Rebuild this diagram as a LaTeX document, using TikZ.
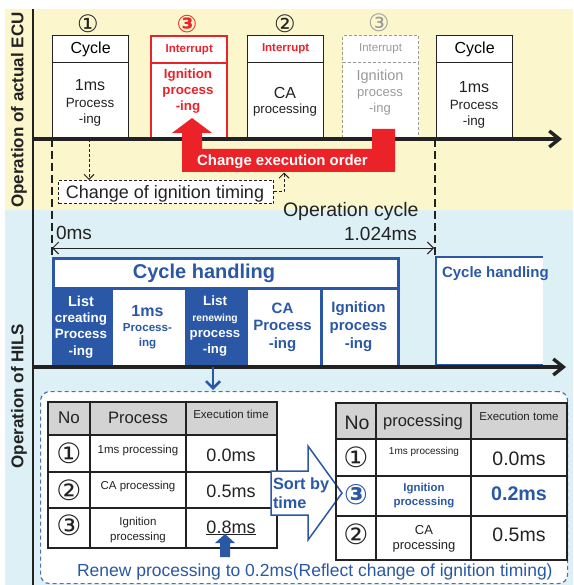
\documentclass[tikz,border=0pt]{standalone}
\usepackage{fontspec}
\setmainfont{Liberation Sans}
\newfontfamily\symfont{DejaVu Sans}
\usetikzlibrary{arrows.meta}

\definecolor{ecubg}{HTML}{FBF6CC}
\definecolor{hilsbg}{HTML}{DDF0F5}
\definecolor{ecured}{HTML}{EC2229}
\definecolor{hilsblue}{HTML}{2A58A6}
\definecolor{ghost}{HTML}{9A9A9A}
\definecolor{headgray}{HTML}{D3D3D3}
\definecolor{ink}{HTML}{222222}

\newcommand\fs[2]{\fontsize{#1}{#2}\selectfont}

\tikzset{
  txt/.style={inner sep=0pt, outer sep=0pt, text=ink},
  ecubox/.style={draw=ink, line width=1.3pt, fill=white, inner sep=0pt, anchor=north west, minimum width=76pt},
  redbox/.style={ecubox, draw=ecured, line width=2.4pt},
  ghostbox/.style={ecubox, draw=ghost, line width=1.1pt, dash pattern=on 3pt off 2pt},
  timeline/.style={line width=3.4pt, draw=ink, -{Straight Barb[length=10pt,width=16pt]}},
  cyclemark/.style={line width=1.9pt, draw=ink, dash pattern=on 8pt off 4pt},
  hcell/.style={draw=hilsblue, line width=2.8pt, fill=white, inner sep=0pt, anchor=north west, minimum height=78pt},
  hdark/.style={hcell, fill=hilsblue},
  circ/.style={txt, font=\symfont\fs{24}{24}},
  bigcirc/.style={txt, font=\symfont\fs{28}{28}},
  tline/.style={line width=1.4pt, draw=ink},
}

\begin{document}
\begin{tikzpicture}[x=1pt,y=-1pt]
\useasboundingbox (0,0) rectangle (573,585);
% backgrounds of the two bands
\fill[white] (0,0) rectangle (573,585);
\fill[ecubg] (5,9) rectangle (573,210);
\fill[hilsbg] (5,210) rectangle (573,585);

% left axis and band titles
\draw[line width=1.5pt, ink] (33,9) -- (33,585);
\node[txt, rotate=90, font=\bfseries\fs{17}{17}] (ecuTitle) at (19,110) {Operation of actual ECU};
\node[txt, rotate=90, font=\bfseries\fs{17}{17}] (hilsTitle) at (19,396) {Operation of HILS};

% ---------- actual ECU ----------
\node[circ] (n1) at (88,24) {①};
\node[circ, text=ecured, font=\symfont\bfseries\fs{24}{24}] (n3) at (187,24) {③};
\node[circ] (n2) at (285,24) {②};
\node[circ, text=ghost] (n3g) at (379,23) {③};

\node[ecubox, minimum height=27pt, font=\fs{16}{16}] (c1h) at (52,35) {Cycle};
\node[ecubox, minimum height=76pt] (c1b) at (52,62) {};
\node[txt, align=center, font=\fs{13.4}{16.5}] (c1t) at (90,103) {{\fs{16}{16.5}1ms}\\Process\\-ing};

\node[redbox, minimum height=27pt, text=ecured, font=\bfseries\fs{11.5}{11.5}] (c2h) at (150,35) {Interrupt};
\node[redbox, minimum height=76pt] (c2b) at (150,62) {};
\node[txt, align=center, text=ecured, font=\bfseries\fs{13.3}{16}] (c2t) at (188,91) {Ignition\\process\\-ing};

\node[ecubox, minimum height=27pt, text=ecured, font=\bfseries\fs{11.5}{11.5}] (c3h) at (247,35) {Interrupt};
\node[ecubox, minimum height=76pt] (c3b) at (247,62) {};
\node[txt, align=center, font=\fs{13.2}{15}] (c3t) at (285,102) {{\fs{16}{15}CA}\\processing};

\node[ghostbox, minimum height=27pt, text=ghost, font=\fs{11.5}{11.5}] (c4h) at (342,35) {Interrupt};
\node[ghostbox, minimum height=76pt] (c4b) at (342,62) {};
\node[txt, align=center, text=ghost, font=\fs{13}{16}] (c4t) at (380,92.5) {{\fs{14.5}{16}Ignition}\\process\\-ing};

\node[ecubox, minimum height=27pt, font=\fs{16}{16}] (c5h) at (436,35) {Cycle};
\node[ecubox, minimum height=76pt] (c5b) at (436,62) {};
\node[txt, align=center, font=\fs{13.4}{16.5}] (c5t) at (474,105) {{\fs{16}{16.5}1ms}\\Process\\-ing};

\coordinate (ecuStart) at (33,139);
\coordinate (ecuEnd) at (562,139);
\draw[timeline] (ecuStart) -- (ecuEnd);

% cycle boundaries
\coordinate (cycA) at (52,139);
\coordinate (cycB) at (435,139);
\draw[cyclemark] (cycA) -- (52,257);
\draw[cyclemark] (cycB) -- (435,257);

% ignition timing change note
\node[draw=ink, line width=1pt, dash pattern=on 3pt off 2pt, fill=white, inner sep=0pt, anchor=north west,
      minimum width=215pt, minimum height=23pt] (chg) at (58,180) {};
\node[txt, anchor=base, font=\fs{18}{18}] (chgText) at (165,198.5) {Change of ignition timing};

% execution order change
\fill[ecured] (182,172) -- (182,133) -- (172,133) -- (192,118) -- (212,133) -- (202,133)
  -- (202,149) -- (372,149) -- (372,129) -- (395,129) -- (395,172) -- cycle;
\node[txt, anchor=base, text=white, font=\bfseries\fs{14.9}{14.9}] (orderText) at (282.5,166) {Change execution order};

\coordinate (tapIgn) at (89,139);
\draw[line width=1pt, dash pattern=on 3pt off 2pt, ink, -{Straight Barb[length=5pt,width=10pt]}] (tapIgn) -- (tapIgn |- chg.north);
\coordinate (orderFoot) at (284,172.5);
\draw[line width=1pt, dash pattern=on 3pt off 2pt, ink, -{Straight Barb[length=5pt,width=10pt]}] (chg.east) -| (orderFoot);

% operation cycle span
\node[txt, anchor=base west, font=\fs{19.5}{19.5}] (opCycle) at (283,216) {Operation cycle};
\node[txt, anchor=base west, font=\fs{19}{19}] (t0) at (56,239) {0ms};
\node[txt, anchor=base east, font=\fs{19}{19}] (t1) at (417,240) {1.024ms};
\coordinate (spanL) at (52,248);
\coordinate (spanR) at (434,248);
\draw[line width=1pt, ink, {Straight Barb[length=6pt,width=12pt]}-{Straight Barb[length=6pt,width=12pt]}] (spanL) -- (spanR);

% ---------- HILS ----------
\node[hcell, minimum width=345pt, minimum height=30pt] (hh) at (52,257) {};
\node[txt, text=hilsblue, font=\bfseries\fs{20}{20}, anchor=base] (hhText) at (204,278) {Cycle handling};

\node[hdark, minimum width=58pt] (h1) at (52,287) {};
\node[hcell, minimum width=75pt] (h2) at (110,287) {};
\node[hdark, minimum width=60pt] (h3) at (185,287) {};
\node[hcell, minimum width=75pt] (h4) at (245,287) {};
\node[hcell, minimum width=77pt] (h5) at (320,287) {};

\node[txt, align=center, text=white, font=\bfseries\fs{13.4}{16.3}] (h1t) at (81,327) {{\fs{14.5}{16.3}List}\\creating\\Process\\-ing};
\node[txt, align=center, text=hilsblue, font=\bfseries\fs{11.6}{15}] (h2t) at (147.5,327.5) {{\fs{16}{15}1ms}\\Process-\\ing};
\node[txt, align=center, text=white, font=\bfseries\fs{13.2}{15.7}] (h3t) at (215,326) {{\fs{13.5}{15.7}List}\\{\fs{10.3}{15.7}renewing}\\process\\-ing};
\node[txt, align=center, text=hilsblue, font=\bfseries\fs{15}{17.5}] (h4t) at (282.5,327) {CA\\Process\\-ing};
\node[txt, align=center, text=hilsblue, font=\bfseries\fs{15}{18}] (h5t) at (358.5,327) {Ignition\\process\\-ing};

\fill[white] (436,257) rectangle (543,365);
\draw[hilsblue, line width=2.8pt] (543,257) -- (436,257) -- (436,365) -- (543,365);
\node[txt, anchor=base west, text=hilsblue, font=\bfseries\fs{15}{15}] (hh2) at (442,277) {Cycle handling};

\coordinate (hilsStart) at (33,367);
\coordinate (hilsEnd) at (566,367);
\draw[timeline] (hilsStart) -- (hilsEnd);

% list detail panel
\node[draw=hilsblue!85, line width=1.2pt, dash pattern=on 4pt off 3pt, fill=white, rounded corners=9pt,
      anchor=north west, minimum width=527pt, minimum height=192pt, inner sep=0pt] (panel) at (40,391) {};
\draw[hilsblue, line width=2.6pt, -{Straight Barb[length=7pt,width=14pt]}] (213,367) -- (213,390);

% table before sorting
\fill[headgray] (48,402) rectangle (277,435);
\draw[tline] (48,402) rectangle (277,548);
\draw[tline] (48,435) -- (277,435) (48,472) -- (277,472) (48,508) -- (277,508)
             (90,402) -- (90,548) (186,402) -- (186,548);
\node[txt, anchor=base, font=\fs{17}{17}] (aNo) at (69,423) {No};
\node[txt, anchor=base, font=\fs{16.6}{16.6}] (aProc) at (138,423) {Process};
\node[txt, anchor=base, font=\fs{11.5}{11.5}] (aTime) at (231,418) {Execution time};
\node[bigcirc] (a1) at (69,453) {①};
\node[txt, anchor=base, font=\fs{11.5}{11.5}] (a1p) at (138,453) {1ms processing};
\node[txt, anchor=base, font=\fs{18}{18}] (a1t) at (231,461) {0.0ms};
\node[bigcirc] (a2) at (69,490) {②};
\node[txt, anchor=base, font=\fs{11.5}{11.5}] (a2p) at (138,489) {CA processing};
\node[txt, anchor=base, font=\fs{18}{18}] (a2t) at (231,497) {0.5ms};
\node[bigcirc] (a3) at (69,525) {③};
\node[txt, align=center, font=\fs{11.5}{15}] (a3p) at (138,530) {Ignition\\processing};
\node[txt, anchor=base, font=\fs{18}{18}] (a3t) at (231,533) {\underline{0.8ms}};
\fill[hilsblue] (220,557) -- (220,543) -- (215,543) -- (225,534) -- (235,543) -- (230,543) -- (230,557) -- cycle;

% sort arrow
\draw[hilsblue, line width=1.5pt, fill=white, line join=miter]
  (271,471) -- (308,471) -- (308,446) -- (342,493) -- (308,540) -- (308,515) -- (271,515) -- cycle;
\node[txt, anchor=north west, align=left, text=hilsblue, font=\bfseries\fs{16.3}{19}] (sortText) at (273,478) {Sort by\\time};

% table after sorting
\fill[headgray] (336,403) rectangle (567,439);
\draw[tline] (336,403) rectangle (567,560);
\draw[tline] (336,439) -- (567,439) (336,476) -- (567,476) (336,516) -- (567,516)
             (376,403) -- (376,560) (471,403) -- (471,560);
\node[txt, anchor=base, font=\fs{19.5}{19.5}] (bNo) at (357,429) {No};
\node[txt, anchor=base, font=\fs{16.5}{16.5}] (bProc) at (423,426) {processing};
\node[txt, anchor=base, font=\fs{11.5}{11.5}] (bTime) at (519,420) {Execution tome};
\node[bigcirc] (b1) at (356,457) {①};
\node[txt, anchor=base, font=\fs{10}{10}] (b1p) at (424,454) {1ms processing};
\node[txt, anchor=base, font=\fs{19.5}{19.5}] (b1t) at (519,465) {0.0ms};
\node[bigcirc, text=hilsblue, font=\symfont\bfseries\fs{28}{28}] (b2) at (356,495) {③};
\node[txt, align=center, text=hilsblue, font=\bfseries\fs{11.4}{14}] (b2p) at (424,496) {Ignition\\processing};
\node[txt, anchor=base, text=hilsblue, font=\bfseries\fs{19.7}{19.7}] (b2t) at (519,500) {0.2ms};
\node[bigcirc] (b3) at (356,534) {②};
\node[txt, align=center, font=\fs{13}{15}] (b3p) at (424,539) {CA\\processing};
\node[txt, anchor=base, font=\fs{19.5}{19.5}] (b3t) at (519,541) {0.5ms};

\node[txt, anchor=base west, text=hilsblue, font=\fs{17.5}{17.5}] (renew) at (77,576)
  {Renew processing to 0.2ms(Reflect change of ignition timing)};
\end{tikzpicture}
\end{document}
